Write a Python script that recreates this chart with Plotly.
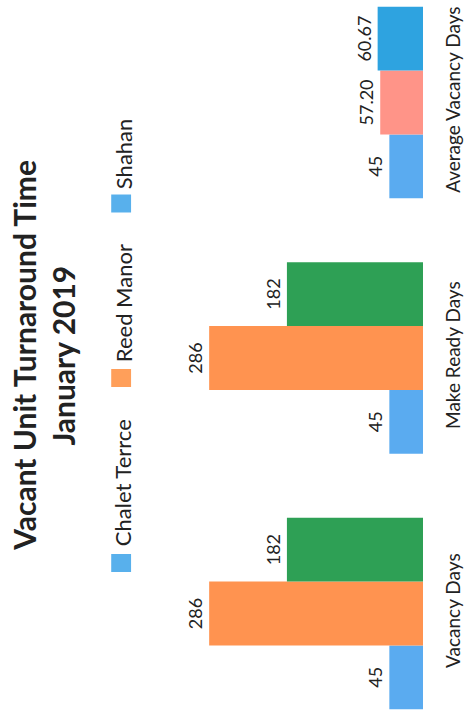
import plotly.graph_objects as go

categories = ["Vacancy Days", "Make Ready Days", "Average Vacancy Days"]
series_names = ["Chalet Terrce", "Reed Manor", "Shahan"]
chalet_values = [45, 45, 45]
reed_values = [286, 286, 57.20]
shahan_values = [182, 182, 60.67]
chalet_labels = ["45", "45", "45"]
reed_labels = ["286", "286", "57.20"]
shahan_labels = ["182", "182", "60.67"]

chalet_colors = ["#5AABF0", "#5AABF0", "#5AABF0"]
reed_colors = ["#FF9350", "#FF9350", "#FF9488"]
shahan_colors = ["#2EA055", "#2EA055", "#2EA3E0"]
legend_colors = ["#58B0EC", "#FF9F5A", "#58B0EC"]

W, H = 464, 723
ML, MR, MT, MB = 0, 38, 0, 0
PW, PH = W - ML - MR, H - MT - MB

FONT = "Lato"

fig = go.Figure()
for name, vals, labs, cols in [
    (series_names[0], chalet_values, chalet_labels, chalet_colors),
    (series_names[1], reed_values, reed_labels, reed_colors),
    (series_names[2], shahan_values, shahan_labels, shahan_colors),
]:
    fig.add_trace(go.Bar(
        name=name, y=categories, x=vals, orientation="h",
        marker=dict(color=cols, line=dict(width=0)),
        text=labs, textposition="outside", textangle=-90,
        textfont=dict(family=FONT, size=18, color="#222222"),
        cliponaxis=False, showlegend=False, hoverinfo="skip",
    ))

# px per unit ~0.753, baseline at right edge of plot area
xmax = PW / 0.753
fig.update_xaxes(range=[xmax, 0], visible=False, showgrid=False, zeroline=False)
fig.update_yaxes(range=[-0.4286, 2.401], side="right", tickangle=-90,
                 showgrid=False, zeroline=False, showline=False,
                 ticks="outside", ticklen=13, tickcolor="rgba(0,0,0,0)",
                 tickfont=dict(family=FONT, size=19, color="#222222"))

def px(x):
    return (x - ML) / PW

def py(y):
    return 1 - (y - MT) / PH

annotations = [
    dict(text="<b>Vacant Unit Turnaround Time</b>", x=px(24), y=py(355), xref="paper", yref="paper",
         xanchor="center", yanchor="middle",
         textangle=-90, showarrow=False, font=dict(family=FONT, size=30, color="#222222")),
    dict(text="<b>January 2019</b>", x=px(63), y=py(356), xref="paper", yref="paper",
         xanchor="center", yanchor="middle",
         textangle=-90, showarrow=False, font=dict(family=FONT, size=30, color="#222222")),
]
shapes = []
legend_items = [(series_names[0], 483, 563), (series_names[1], 303, 378), (series_names[2], 154, 203.5)]
for (name, ty, sy), col in zip(legend_items, legend_colors):
    annotations.append(dict(text=name, x=px(124), y=py(ty), xref="paper", yref="paper",
                            xanchor="center", yanchor="middle",
                            textangle=-90, showarrow=False,
                            font=dict(family=FONT, size=22, color="#222222")))
    shapes.append(dict(type="rect", xref="paper", yref="paper",
                       x0=px(112), x1=px(132), y0=py(sy + 9), y1=py(sy - 9),
                       fillcolor=col, line=dict(width=0)))

fig.update_layout(
    width=W, height=H,
    margin=dict(l=ML, r=MR, t=MT, b=MB),
    barmode="group", bargap=0.25, bargroupgap=0,
    plot_bgcolor="white", paper_bgcolor="white",
    annotations=annotations, shapes=shapes,
)

fig.write_html("out.html", config={"displayModeBar": False},
               post_script="document.body.style.margin='0';")
